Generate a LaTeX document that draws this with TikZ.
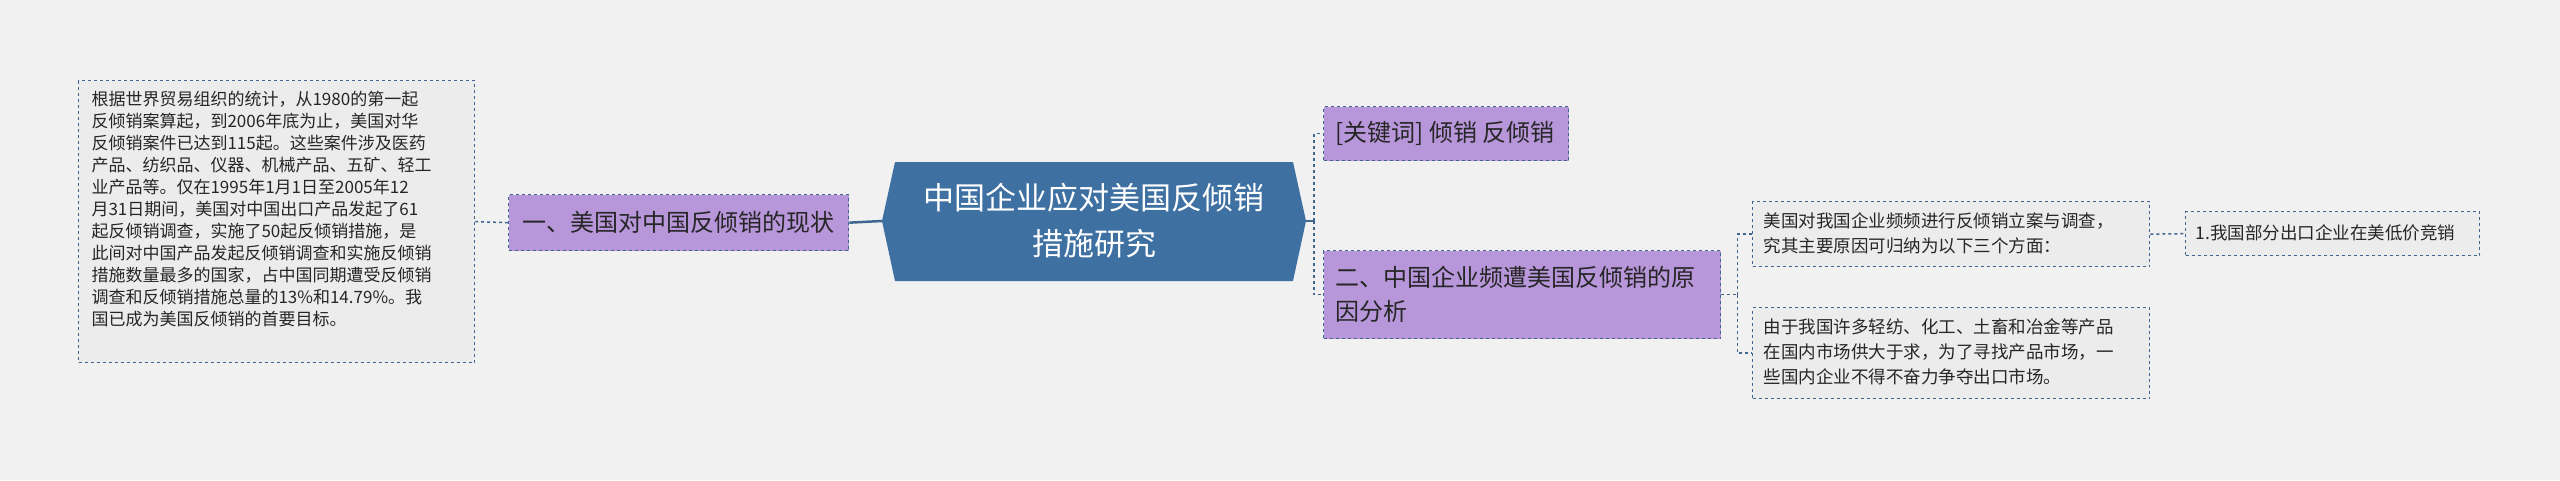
\documentclass[tikz,border=0pt]{standalone}
\usepackage{fontspec}
\setmainfont{Noto Sans CJK SC}
\usetikzlibrary{shapes.geometric}
\definecolor{bg}{HTML}{F1F1F1}
\definecolor{edge}{HTML}{3F6690}
\definecolor{purp}{HTML}{B796DA}
\definecolor{cen}{HTML}{3E70A2}
\definecolor{boxg}{HTML}{ECECEC}
\tikzset{
 x=1pt,y=-1pt,
 leaf/.style={draw=edge,dashed,line width=1.3pt,fill=boxg,anchor=north west,inner sep=0pt,text=black!85},
 purpbox/.style={draw=edge,dashed,line width=1.3pt,fill=purp,anchor=north west,inner sep=0pt,text=black!85},
 conn/.style={draw=edge,dashed,line width=1.5pt},
 solidc/.style={draw=edge,line width=2.5pt}
}
\begin{document}
\begin{tikzpicture}
\fill[bg] (0,0) rectangle (2560,480);
\useasboundingbox (0,0) rectangle (2560,480);
% left text box
\node[leaf,minimum width=396pt,minimum height=282pt] (L) at (78,80) {};
\node[anchor=north west,align=left,font=\fontsize{17}{22}\selectfont,text=black!85] at (88,88) {根据世界贸易组织的统计，从1980的第一起\\反倾销案算起，到2006年底为止，美国对华\\反倾销案件已达到115起。这些案件涉及医药\\产品、纺织品、仪器、机械产品、五矿、轻工\\业产品等。仅在1995年1月1日至2005年12\\月31日期间，美国对中国出口产品发起了61\\起反倾销调查，实施了50起反倾销措施，是\\此间对中国产品发起反倾销调查和实施反倾销\\措施数量最多的国家，占中国同期遭受反倾销\\调查和反倾销措施总量的13\%和14.79\%。我\\国已成为美国反倾销的首要目标。};
% node 1
\node[purpbox,minimum width=340pt,minimum height=56pt] (N1) at (508,194) {};
\node[font=\fontsize{24}{30}\selectfont,text=black!85] at (678,222) {一、美国对中国反倾销的现状};
% center
\fill[cen] (882,221) -- (895,162) -- (1293,162) -- (1306,221) -- (1293,281) -- (895,281) -- cycle;
\coordinate (CL) at (882,221); \coordinate (CR) at (1306,221);
\node[align=center,font=\fontsize{31}{46}\selectfont,text=white] (C) at (1094,221) {中国企业应对美国反倾销\\措施研究};
% keyword
\node[purpbox,minimum width=245pt,minimum height=54pt] (K) at (1323,106) {};
\node[anchor=west,font=\fontsize{24}{30}\selectfont,text=black!85] at (1332,133) {[关键词] 倾销 反倾销};
% node 2
\node[purpbox,minimum width=397pt,minimum height=88pt] (N2) at (1323,250) {};
\node[anchor=west,align=left,font=\fontsize{24}{34}\selectfont,text=black!85] at (1332,294) {二、中国企业频遭美国反倾销的原\\因分析};
% A
\node[leaf,minimum width=397pt,minimum height=65pt] (A) at (1752,201) {};
\node[anchor=west,align=left,font=\fontsize{17.5}{25}\selectfont,text=black!85] at (1760,233) {美国对我国企业频频进行反倾销立案与调查，\\究其主要原因可归纳为以下三个方面：};
% B
\node[leaf,minimum width=397pt,minimum height=91pt] (B) at (1752,307) {};
\node[anchor=west,align=left,font=\fontsize{17.5}{25}\selectfont,text=black!85] at (1760,352) {由于我国许多轻纺、化工、土畜和冶金等产品\\在国内市场供大于求，为了寻找产品市场，一\\些国内企业不得不奋力争夺出口市场。};
% 1
\node[leaf,minimum width=294pt,minimum height=44pt] (P) at (2185,211) {};
\node[anchor=west,font=\fontsize{17.5}{22}\selectfont,text=black!85] at (2192,233) {1.我国部分出口企业在美低价竞销};
% connectors
\draw[solidc] (CL) -- (N1.east);
\draw[conn] (N1.west) -- (L.east);
\draw[solidc] (CR) -- ++(8,0) coordinate (J);
\draw[conn] (J) |- (K.west);
\draw[conn] (J) |- (N2.west);
\draw[conn] (N2.east) -- ++(16,0) coordinate (J2);
\draw[conn] (J2) |- (A.west);
\draw[conn] (J2) |- (B.west);
\draw[conn] (A.east) -- (P.west);
\end{tikzpicture}
\end{document}
